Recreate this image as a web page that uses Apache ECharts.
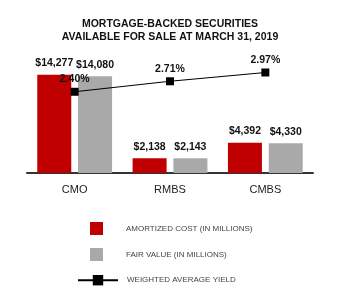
<!DOCTYPE html>
<html>
<head>
<meta charset="utf-8">
<script src="https://cdn.jsdelivr.net/npm/echarts@6/dist/echarts.min.js"></script>
<style>
  html, body { margin: 0; padding: 0; background: #fff; }
  #charts { width: 340px; height: 300px; }
</style>
</head>
<body>
<div id="charts"></div>
<script>
var categories = ['CMO', 'RMBS', 'CMBS'];
var amortizedCost = [14277, 2138, 4392];
var fairValue = [14080, 2143, 4330];
var yieldPct = [2.40, 2.71, 2.97];

var chart = echarts.init(document.getElementById('charts'));
var font = 'Liberation Sans, Arial, sans-serif';

var money = function (p) {
  return '$' + p.value.toLocaleString('en-US');
};

var option = {
  animation: false,
  title: {
    text: 'MORTGAGE-BACKED SECURITIES\nAVAILABLE FOR SALE AT MARCH 31, 2019',
    left: 'center',
    top: 13,
    textStyle: { fontFamily: font, fontSize: 10.5, fontWeight: 'bold', color: '#111', lineHeight: 13 }
  },
  legend: [
    {
      orient: 'vertical',
      left: 85,
      top: 217,
      itemWidth: 13,
      itemHeight: 13,
      itemGap: 13,
      icon: 'rect',
      data: ['AMORTIZED COST (IN MILLIONS)', 'FAIR VALUE (IN MILLIONS)'],
      textStyle: { fontFamily: font, fontSize: 8, color: '#444', padding: [0, 0, 0, 18] }
    },
    {
      orient: 'vertical',
      left: 72,
      top: 270,
      itemWidth: 40,
      itemHeight: 13,
      data: ['WEIGHTED AVERAGE YIELD'],
      textStyle: { fontFamily: font, fontSize: 8, color: '#444', padding: [0, 0, 0, 4] }
    }
  ],
  grid: { left: 27, right: 27, top: 63, bottom: 127, containLabel: false },
  xAxis: {
    type: 'category',
    data: categories,
    axisLine: { lineStyle: { color: '#333', width: 2 } },
    axisTick: { show: false },
    axisLabel: { fontFamily: font, fontSize: 11, color: '#222', margin: 11 }
  },
  yAxis: [
    { type: 'value', min: 0, max: 16000, show: false },
    { type: 'value', min: 0, max: 3.25, show: false }
  ],
  series: [
    {
      name: 'AMORTIZED COST (IN MILLIONS)',
      type: 'bar',
      data: amortizedCost,
      barWidth: 34,
      barGap: '20%',
      itemStyle: { color: '#C00000' },
      label: { show: true, position: 'top', distance: 6, formatter: money,
        fontFamily: font, fontSize: 10.5, fontWeight: 'bold', color: '#111' }
    },
    {
      name: 'FAIR VALUE (IN MILLIONS)',
      type: 'bar',
      data: fairValue,
      barWidth: 34,
      itemStyle: { color: '#A9A9A9' },
      label: { show: true, position: 'top', distance: 6, formatter: money,
        fontFamily: font, fontSize: 10.5, fontWeight: 'bold', color: '#111' }
    },
    {
      name: 'WEIGHTED AVERAGE YIELD',
      type: 'line',
      yAxisIndex: 1,
      data: yieldPct,
      z: 5,
      symbol: 'rect',
      symbolSize: 8,
      lineStyle: { color: '#000', width: 1.2 },
      itemStyle: { color: '#000' },
      label: { show: true, position: 'top', distance: 3,
        formatter: function (p) { return p.value.toFixed(2) + '%'; },
        fontFamily: font, fontSize: 10.5, fontWeight: 'bold', color: '#111' }
    }
  ]
};
chart.setOption(option);
</script>
</body>
</html>
